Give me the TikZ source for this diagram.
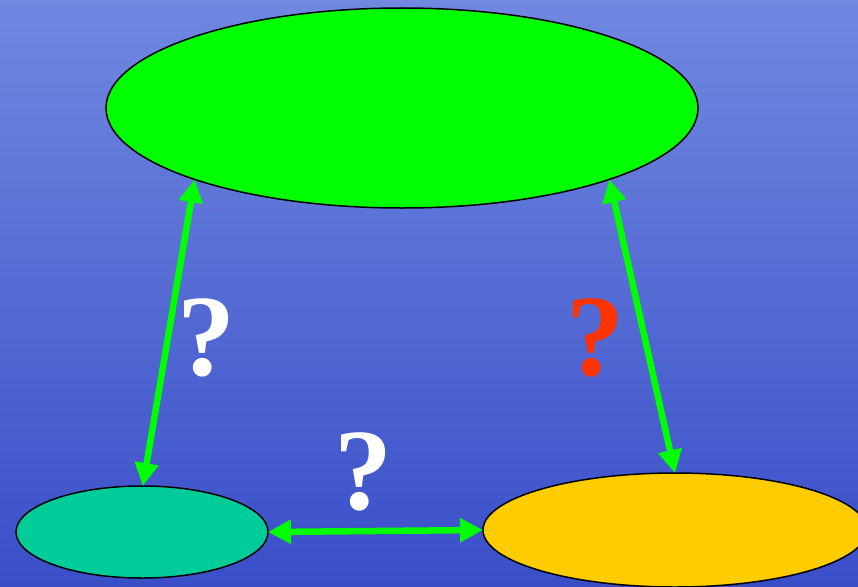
\documentclass[tikz,border=0pt]{standalone}
\usepackage{fontspec}
\setmainfont{Liberation Serif}
\usetikzlibrary{shapes.geometric,arrows.meta}
\definecolor{bgtop}{HTML}{7088E0}
\definecolor{bgbot}{HTML}{3A4EC8}
\definecolor{biggreen}{HTML}{00FF00}
\definecolor{tealfill}{HTML}{00CC99}
\definecolor{yellowfill}{HTML}{FFCC00}
\definecolor{qred}{HTML}{FF3300}
\tikzset{
  blob/.style={ellipse, draw=black, line width=1.5pt, inner sep=0pt, outer sep=0pt},
  link/.style={draw=biggreen, line width=6.5pt, {Triangle[length=23pt,width=23pt]}-{Triangle[length=23pt,width=23pt]}},
  qmark/.style={font=\bfseries\fontsize{116}{116}\selectfont, inner sep=0pt}
}
\begin{document}
\begin{tikzpicture}[x=1pt,y=-1pt]
\useasboundingbox (0,0) rectangle (858,586);
\clip (0,0) rectangle (858,586);
\shade[top color=bgtop, bottom color=bgbot] (0,0) rectangle (858,586);
\node[blob, fill=biggreen, minimum width=592pt, minimum height=200pt] (top) at (402,108) {};
\node[blob, fill=tealfill, minimum width=252pt, minimum height=92pt] (bl) at (142,532) {};
\node[blob, fill=yellowfill, minimum width=384pt, minimum height=114pt] (yr) at (675,530) {};
\draw[link] (top.199) -- (bl.89);
\draw[link] (top.341) -- (yr.north);
\draw[link] (bl.east) -- (yr.west);
\node[qmark, text=white] (q1) at (206,338) {?};
\node[qmark, text=qred] (q2) at (595,338) {?};
\node[qmark, text=white] (q3) at (363,472) {?};
\end{tikzpicture}
\end{document}
